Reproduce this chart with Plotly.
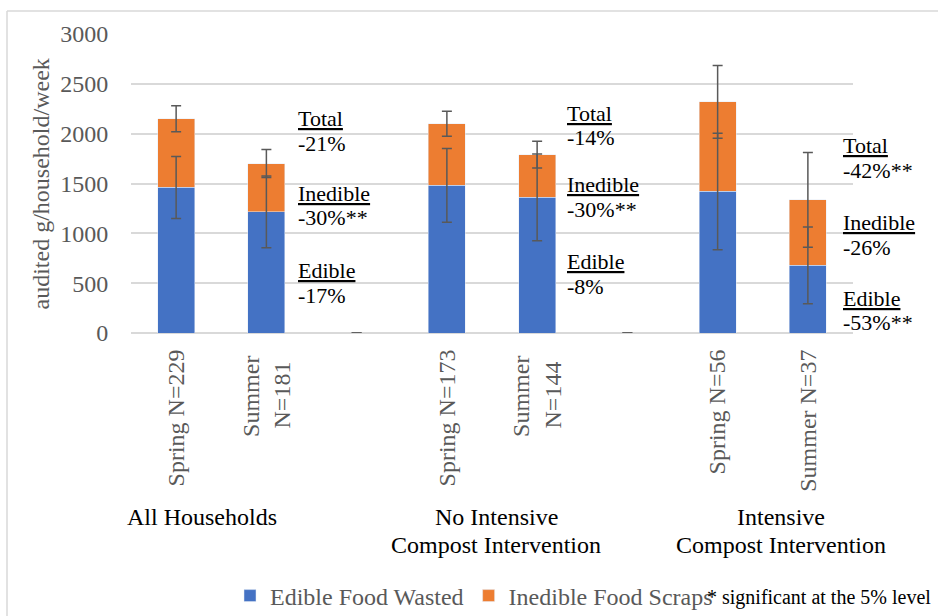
import plotly.graph_objects as go

# Category slots along the x axis (empty slots separate the three groups)
slot_labels = ["Spring N=229", "Summer\u00a0<br>N=181\u00a0\u00a0", "",
               "Spring N=173", "Summer\u00a0<br>N=144\u00a0\u00a0", "",
               "Spring N=56", "Summer N=37"]

# Audited grams per household per week
edible = [1460, 1215, 0, 1480, 1360, 0, 1420, 678]
inedible = [690, 485, 0, 620, 430, 0, 898, 658]
# Error bar half-lengths (edible at its own top, inedible at the stack top)
edible_err = [310, 360, 0, 370, 435, 0, 585, 385]
inedible_err = [130, 140, 0, 125, 135, 0, 365, 475]

group_labels = [["All Households"],
                ["No Intensive", "Compost Intervention"],
                ["Intensive", "Compost Intervention"]]

# Seasonal change notes per group: (heading, change, y of heading, y of change)
change_notes = [
    [("Total", "-21%", 2157, 1897), ("Inedible", "-30%**", 1396, 1155), ("Edible", "-17%", 624, 374)],
    [("Total", "-14%", 2207, 1957), ("Inedible", "-30%**", 1486, 1235), ("Edible", "-8%", 714, 464)],
    [("Total", "-42%**", 1877, 1626), ("Inedible", "-26%", 1105, 855), ("Edible", "-53%**", 344, 103)],
]
note_x = [1.33, 4.307, 7.367]

FONT = "Liberation Serif"
GREY = "#595959"
BLUE = "#4472C4"
ORANGE = "#ED7D31"

x = list(range(len(slot_labels)))
totals = [e + i for e, i in zip(edible, inedible)]

fig = go.Figure()
fig.add_trace(go.Bar(x=x, y=edible, name="Edible Food Wasted",
                     marker_color=BLUE, width=0.41, hoverinfo="skip"))
fig.add_trace(go.Bar(x=x, y=inedible, name="Inedible Food Scraps",
                     marker_color=ORANGE, width=0.41, hoverinfo="skip"))

# Error bars drawn over both stacked segments
err_style = dict(type="data", color=GREY, thickness=1.5, width=5)
fig.add_trace(go.Scatter(x=x, y=edible, mode="markers", showlegend=False,
                         marker=dict(size=1, opacity=0), hoverinfo="skip",
                         error_y=dict(array=edible_err, **err_style)))
fig.add_trace(go.Scatter(x=x, y=totals, mode="markers", showlegend=False,
                         marker=dict(size=1, opacity=0), hoverinfo="skip",
                         error_y=dict(array=inedible_err, **err_style)))

annotations = []
# y axis title
annotations.append(dict(
    text="audited g/household/week", xref="paper", yref="paper",
    x=-0.1247, y=0.5, textangle=-90, showarrow=False,
    font=dict(family=FONT, size=24, color=GREY), xanchor="center", yanchor="middle",
))

# Group labels under the rotated slot labels
group_x = [0.288, 3.546, 6.704]
line_y = [-0.6138, -0.7074]
for gx, lines in zip(group_x, group_labels):
    for i, line in enumerate(lines):
        annotations.append(dict(
            text=line, xref="x", yref="paper", x=gx, y=line_y[i],
            showarrow=False, xanchor="center", yanchor="middle",
            font=dict(family=FONT, size=24, color="#000000"),
        ))

# Change notes beside each summer bar
for nx, notes in zip(note_x, change_notes):
    for head, change, yh, yc in notes:
        annotations.append(dict(
            text=f"<u>{head}</u>", xref="x", yref="y", x=nx, y=yh,
            showarrow=False, xanchor="left", yanchor="middle",
            font=dict(family=FONT, size=22, color="#000000"),
        ))
        annotations.append(dict(
            text=change, xref="x", yref="y", x=nx, y=yc,
            showarrow=False, xanchor="left", yanchor="middle",
            font=dict(family=FONT, size=22, color="#000000"),
        ))

# Significance footnote
annotations.append(dict(
    text="* significant at the 5% level", xref="paper", yref="paper",
    x=(705 - 131) / 722, y=(333.3 - 598) / 299.3, showarrow=False,
    xanchor="left", yanchor="middle",
    font=dict(family=FONT, size=20, color="#000000"),
))

# Chart area border (left and top edges)
shapes = [
    dict(type="line", xref="paper", yref="paper",
         x0=(7 - 131) / 722, x1=(940 - 131) / 722,
         y0=(333.3 - 11) / 299.3, y1=(333.3 - 11) / 299.3,
         line=dict(color="#D9D9D9", width=1.5)),
    dict(type="line", xref="paper", yref="paper",
         x0=(7 - 131) / 722, x1=(7 - 131) / 722,
         y0=(333.3 - 11) / 299.3, y1=(333.3 - 620) / 299.3,
         line=dict(color="#D9D9D9", width=1.5)),
]

fig.update_layout(
    width=938, height=616,
    margin=dict(l=131, r=85, t=34, b=283, autoexpand=False),
    barmode="stack",
    plot_bgcolor="white", paper_bgcolor="white",
    font=dict(family=FONT, size=24, color=GREY),
    showlegend=True,
    legend=dict(
        orientation="h", traceorder="normal",
        xref="container", yref="container",
        x=230 / 938, y=1 - 596 / 616,
        xanchor="left", yanchor="middle",
        font=dict(family=FONT, size=24, color=GREY),
        bgcolor="rgba(0,0,0,0)", itemclick=False,
    ),
    annotations=annotations,
    shapes=shapes,
)

fig.update_xaxes(
    range=[-0.5, 7.5], tickmode="array", tickvals=x, ticktext=slot_labels,
    tickangle=-90, showgrid=False, zeroline=False, showline=False,
    ticks="outside", ticklen=6, tickcolor="rgba(0,0,0,0)",
    tickfont=dict(family=FONT, size=24, color=GREY),
)
fig.update_yaxes(
    range=[0, 3000], dtick=500, showgrid=True, gridcolor="#D9D9D9", gridwidth=1.5,
    zeroline=True, zerolinecolor="#D9D9D9", zerolinewidth=1.5, showline=False,
    ticks="outside", ticklen=17, tickcolor="rgba(0,0,0,0)",
    tickfont=dict(family=FONT, size=24, color=GREY),
)

fig.write_html("out.html")
